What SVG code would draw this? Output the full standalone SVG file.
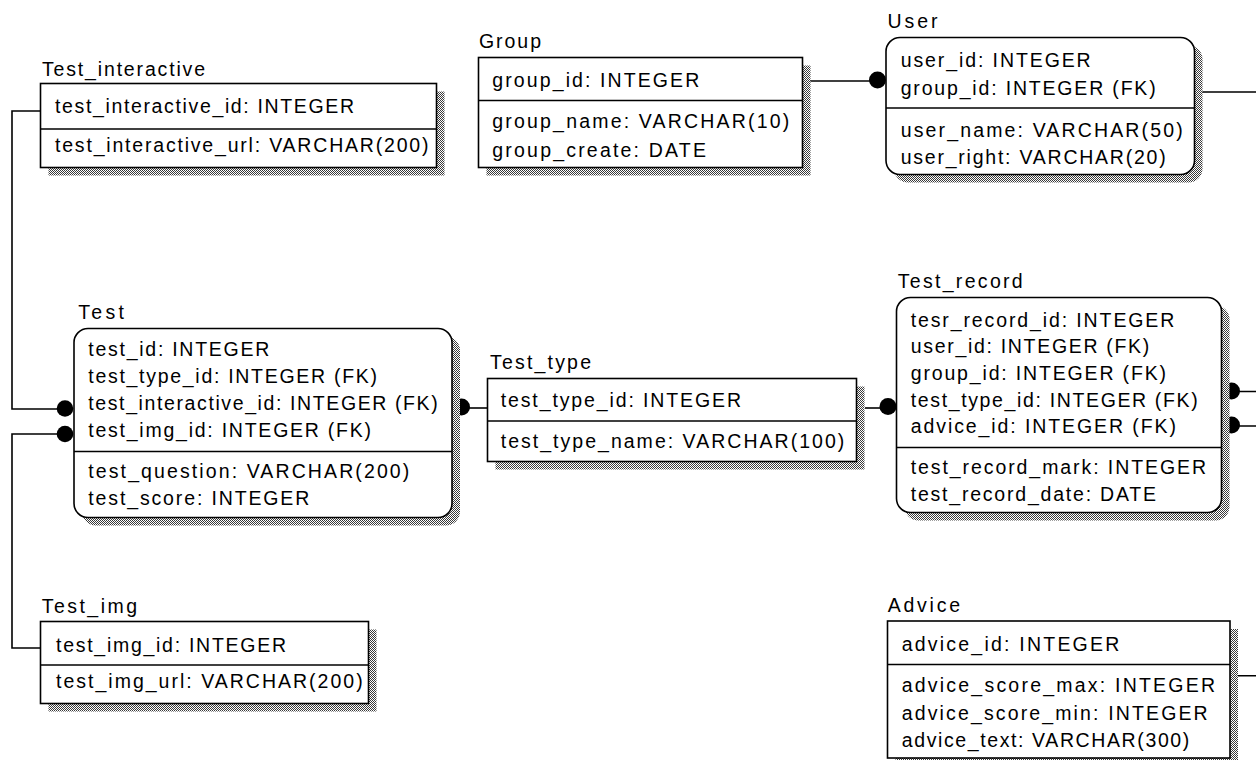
<svg xmlns="http://www.w3.org/2000/svg" width="1256" height="760" viewBox="0 0 1256 760">
  <defs>
    <!-- dithered drop shadow fill -->
    <pattern id="halftone" width="2" height="2" patternUnits="userSpaceOnUse">
      <rect width="2" height="2" fill="#ffffff"/>
      <rect width="1" height="1" fill="#3a3a3a"/>
      <rect x="1" y="1" width="1" height="1" fill="#3a3a3a"/>
    </pattern>
    <style>
      .shadow { fill: url(#halftone); stroke: none; }
      .box { fill: #ffffff; stroke: #000000; stroke-width: 1.6; }
      .div { stroke: #000000; stroke-width: 1.6; }
      .wire { fill: none; stroke: #000000; stroke-width: 1.6; }
      .dot { fill: #000000; stroke: none; }
      text { font-family: "Liberation Sans", Arial, sans-serif; font-size: 19.5px; fill: #000000; }
    </style>
  </defs>
  <rect width="1256" height="760" fill="#ffffff"/>

  <!-- relationships (drawn under the entities so shadows clip the dots) -->
  <g id="connectors">
    <path class="wire" d="M40.5,111 H12 V409 H65"/>
    <circle class="dot" cx="65" cy="408.5" r="8.3"/>
    <path class="wire" d="M40.5,648 H12 V434 H65"/>
    <circle class="dot" cx="65" cy="434" r="8.3"/>
    <path class="wire" d="M487.5,408 H461"/>
    <circle class="dot" cx="461.5" cy="407" r="8.5"/>
    <path class="wire" d="M810,81 H877"/>
    <circle class="dot" cx="877.5" cy="80" r="8.5"/>
    <path class="wire" d="M865,408 H888"/>
    <circle class="dot" cx="888" cy="406.5" r="8.5"/>
    <path class="wire" d="M1202,92 H1275 V391.5 H1231"/>
    <circle class="dot" cx="1231.5" cy="391" r="8.5"/>
    <path class="wire" d="M1238,675.7 H1280 V426 H1231"/>
    <circle class="dot" cx="1231.5" cy="425" r="8.5"/>
  </g>

  <g id="Test_interactive">
    <rect class="shadow" x="48.5" y="91.5" width="396" height="84"/>
    <rect class="box" x="40.5" y="83.5" width="396" height="84"/>
    <line class="div" x1="40.5" y1="129" x2="436.5" y2="129"/>
    <text x="42" y="76" textLength="163" lengthAdjust="spacing">Test_interactive</text>
    <text x="55" y="113.3" textLength="299" lengthAdjust="spacing">test_interactive_id: INTEGER</text>
    <text x="55" y="151.7" textLength="373.5" lengthAdjust="spacing">test_interactive_url: VARCHAR(200)</text>
  </g>

  <g id="Group">
    <rect class="shadow" x="486.5" y="65.5" width="324" height="110"/>
    <rect class="box" x="478.5" y="57.5" width="324" height="110"/>
    <line class="div" x1="478.5" y1="100.5" x2="802.5" y2="100.5"/>
    <text x="479" y="48.3" textLength="62" lengthAdjust="spacing">Group</text>
    <text x="492.3" y="86.7" textLength="207" lengthAdjust="spacing">group_id: INTEGER</text>
    <text x="492.3" y="128" textLength="297" lengthAdjust="spacing">group_name: VARCHAR(10)</text>
    <text x="492.3" y="156.7" textLength="213.7" lengthAdjust="spacing">group_create: DATE</text>
  </g>

  <g id="User">
    <rect class="shadow" x="894" y="45.5" width="308.5" height="137" rx="14"/>
    <rect class="box" x="886" y="37.5" width="308.5" height="137" rx="14"/>
    <line class="div" x1="886" y1="108" x2="1194.5" y2="108"/>
    <text x="887.5" y="28.3" textLength="50" lengthAdjust="spacing">User</text>
    <text x="900.7" y="66.7" textLength="190" lengthAdjust="spacing">user_id: INTEGER</text>
    <text x="900.7" y="95" textLength="255" lengthAdjust="spacing">group_id: INTEGER (FK)</text>
    <text x="900.7" y="136.7" textLength="282" lengthAdjust="spacing">user_name: VARCHAR(50)</text>
    <text x="900.7" y="164.3" textLength="265" lengthAdjust="spacing">user_right: VARCHAR(20)</text>
  </g>

  <g id="Test">
    <rect class="shadow" x="82" y="336.5" width="378" height="189" rx="14"/>
    <rect class="box" x="74" y="328.5" width="378" height="189" rx="14"/>
    <line class="div" x1="74" y1="451.5" x2="452" y2="451.5"/>
    <text x="78.3" y="319.3" textLength="45.5" lengthAdjust="spacing">Test</text>
    <text x="88.3" y="355.7" textLength="181" lengthAdjust="spacing">test_id: INTEGER</text>
    <text x="88.3" y="383.3" textLength="288.7" lengthAdjust="spacing">test_type_id: INTEGER (FK)</text>
    <text x="88.3" y="410" textLength="349.4" lengthAdjust="spacing">test_interactive_id: INTEGER (FK)</text>
    <text x="88.3" y="436.7" textLength="282.7" lengthAdjust="spacing">test_img_id: INTEGER (FK)</text>
    <text x="88.3" y="478.3" textLength="321" lengthAdjust="spacing">test_question: VARCHAR(200)</text>
    <text x="88.3" y="505" textLength="221" lengthAdjust="spacing">test_score: INTEGER</text>
  </g>

  <g id="Test_type">
    <rect class="shadow" x="495.5" y="386.5" width="369" height="83"/>
    <rect class="box" x="487.5" y="378.5" width="369" height="83"/>
    <line class="div" x1="487.5" y1="421" x2="856.5" y2="421"/>
    <text x="490" y="369.3" textLength="101" lengthAdjust="spacing">Test_type</text>
    <text x="500.7" y="406.7" textLength="240.3" lengthAdjust="spacing">test_type_id: INTEGER</text>
    <text x="500.7" y="448.3" textLength="343.6" lengthAdjust="spacing">test_type_name: VARCHAR(100)</text>
  </g>

  <g id="Test_record">
    <rect class="shadow" x="904.5" y="305.5" width="325" height="215" rx="14"/>
    <rect class="box" x="896.5" y="297.5" width="325" height="215" rx="14"/>
    <line class="div" x1="896.5" y1="447.5" x2="1221.5" y2="447.5"/>
    <text x="897.7" y="288.3" textLength="125" lengthAdjust="spacing">Test_record</text>
    <text x="910.7" y="326.7" textLength="263.6" lengthAdjust="spacing">tesr_record_id: INTEGER</text>
    <text x="910.7" y="353.3" textLength="238.6" lengthAdjust="spacing">user_id: INTEGER (FK)</text>
    <text x="910.7" y="380" textLength="255.3" lengthAdjust="spacing">group_id: INTEGER (FK)</text>
    <text x="910.7" y="406.7" textLength="287" lengthAdjust="spacing">test_type_id: INTEGER (FK)</text>
    <text x="910.7" y="433.3" textLength="265.3" lengthAdjust="spacing">advice_id: INTEGER (FK)</text>
    <text x="910.7" y="474" textLength="295.3" lengthAdjust="spacing">test_record_mark: INTEGER</text>
    <text x="910.7" y="501" textLength="245.3" lengthAdjust="spacing">test_record_date: DATE</text>
  </g>

  <g id="Test_img">
    <rect class="shadow" x="48.5" y="629.5" width="328" height="82"/>
    <rect class="box" x="40.5" y="621.5" width="328" height="82"/>
    <line class="div" x1="40.5" y1="665" x2="368.5" y2="665"/>
    <text x="41.7" y="613.3" textLength="95.3" lengthAdjust="spacing">Test_img</text>
    <text x="56" y="651.7" textLength="230" lengthAdjust="spacing">test_img_id: INTEGER</text>
    <text x="56" y="688.3" textLength="306.7" lengthAdjust="spacing">test_img_url: VARCHAR(200)</text>
  </g>

  <g id="Advice">
    <rect class="shadow" x="895.5" y="629" width="342.5" height="137"/>
    <rect class="box" x="887.5" y="621" width="342.5" height="137"/>
    <line class="div" x1="887.5" y1="664.5" x2="1230" y2="664.5"/>
    <text x="887.7" y="611.7" textLength="72.3" lengthAdjust="spacing">Advice</text>
    <text x="901.7" y="650.7" textLength="217.6" lengthAdjust="spacing">advice_id: INTEGER</text>
    <text x="901.7" y="692.3" textLength="313.3" lengthAdjust="spacing">advice_score_max: INTEGER</text>
    <text x="901.7" y="720" textLength="306" lengthAdjust="spacing">advice_score_min: INTEGER</text>
    <text x="901.7" y="746.7" textLength="287.6" lengthAdjust="spacing">advice_text: VARCHAR(300)</text>
  </g>
</svg>
